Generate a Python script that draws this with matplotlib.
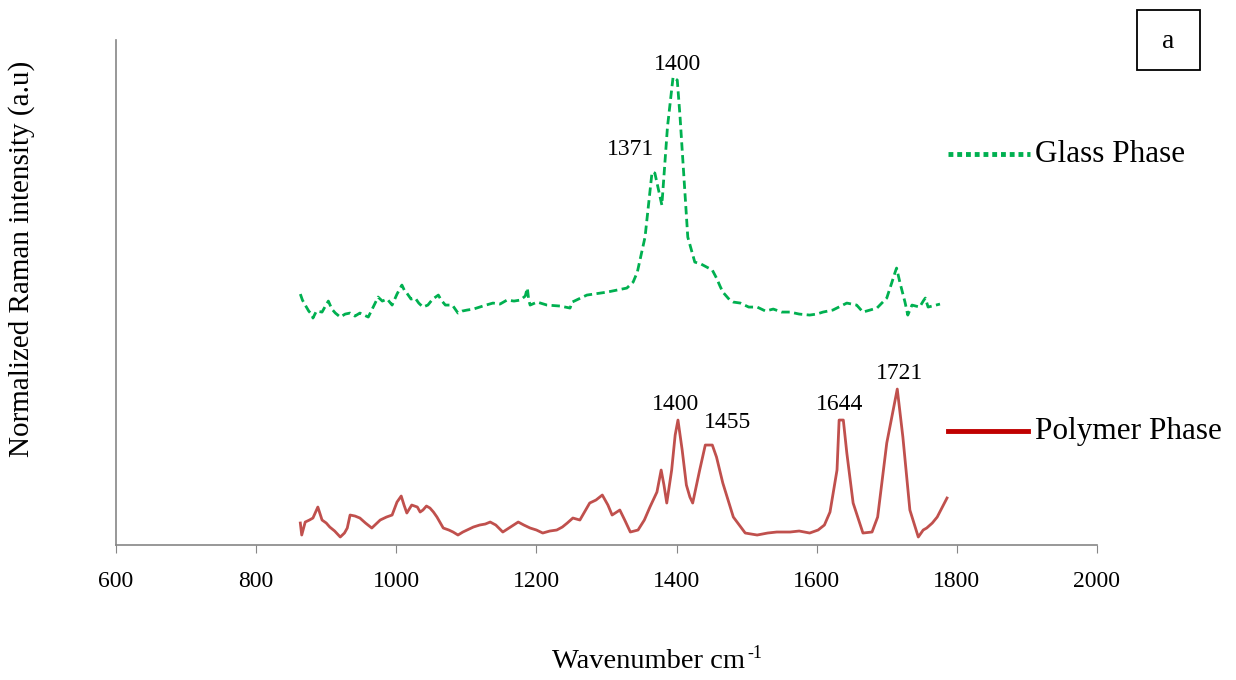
import matplotlib
matplotlib.use("Agg")
import matplotlib.pyplot as plt
from matplotlib.lines import Line2D
from matplotlib.patches import Rectangle

plt.rcParams['font.family'] = ['Liberation Serif', 'DejaVu Serif']

# Glass phase spectrum (wavenumber, normalized intensity)
glass_wn = [863, 866, 870, 875, 880, 881, 886, 894, 898, 903, 908, 913, 920, 927, 934,
            941, 948, 954, 960, 967, 974, 980, 987, 994, 1001, 1004, 1008, 1012, 1015,
            1021, 1027, 1032, 1038, 1045, 1052, 1060, 1064, 1070, 1080, 1088, 1094,
            1101, 1110, 1119, 1128, 1138, 1148, 1158, 1168, 1177, 1184, 1187, 1189,
            1191, 1201, 1215, 1234, 1248, 1251, 1272, 1301, 1329, 1338, 1344, 1355,
            1365, 1369, 1379, 1387, 1395, 1401, 1405, 1416, 1426, 1435, 1443, 1451,
            1457, 1462, 1466, 1476, 1481, 1491, 1503, 1515, 1527, 1538, 1550, 1562,
            1575, 1590, 1600, 1609, 1623, 1643, 1657, 1666, 1686, 1700, 1707, 1712,
            1714, 1719, 1726, 1730, 1736, 1747, 1752, 1755, 1759, 1776]
glass_int = [2.51, 2.45, 2.40, 2.34, 2.30, 2.27, 2.34, 2.33, 2.38, 2.44, 2.36, 2.32,
             2.28, 2.31, 2.32, 2.29, 2.32, 2.30, 2.28, 2.38, 2.48, 2.44, 2.46, 2.40,
             2.51, 2.55, 2.60, 2.54, 2.52, 2.46, 2.47, 2.42, 2.38, 2.40, 2.46, 2.50,
             2.45, 2.40, 2.40, 2.32, 2.34, 2.35, 2.36, 2.38, 2.40, 2.42, 2.41, 2.45,
             2.44, 2.45, 2.49, 2.57, 2.45, 2.40, 2.43, 2.40, 2.39, 2.37, 2.43, 2.50,
             2.53, 2.57, 2.63, 2.73, 3.08, 3.73, 3.72, 3.40, 4.18, 4.68, 4.65, 4.28,
             3.08, 2.83, 2.81, 2.78, 2.75, 2.67, 2.59, 2.53, 2.45, 2.43, 2.42, 2.38,
             2.38, 2.34, 2.36, 2.33, 2.33, 2.31, 2.30, 2.31, 2.33, 2.35, 2.42, 2.40,
             2.33, 2.37, 2.47, 2.62, 2.73, 2.77, 2.62, 2.43, 2.30, 2.40, 2.38, 2.44,
             2.47, 2.38, 2.41]

# Polymer phase spectrum
poly_wn = [863, 865, 870, 876, 881, 888, 894, 900, 905, 912, 920, 926, 930, 934, 941,
           948, 956, 965, 971, 977, 986, 994, 1001, 1007, 1011, 1015, 1022, 1030, 1034,
           1038, 1043, 1048, 1053, 1058, 1067, 1075, 1081, 1088, 1095, 1101, 1110,
           1119, 1127, 1134, 1142, 1152, 1163, 1174, 1182, 1191, 1200, 1209, 1219,
           1229, 1237, 1244, 1252, 1262, 1276, 1285, 1294, 1302, 1308, 1319, 1326,
           1334, 1345, 1354, 1362, 1372, 1378, 1382, 1386, 1393, 1398, 1402, 1408,
           1414, 1419, 1423, 1433, 1441, 1451, 1457, 1466, 1481, 1498, 1515, 1530,
           1543, 1562, 1575, 1590, 1602, 1611, 1619, 1629, 1632, 1638, 1643, 1652,
           1666, 1679, 1687, 1700, 1715, 1723, 1733, 1745, 1752, 1757, 1765, 1772,
           1786]
poly_int = [0.22, 0.10, 0.23, 0.25, 0.27, 0.38, 0.25, 0.22, 0.18, 0.14, 0.08, 0.12,
            0.17, 0.30, 0.29, 0.27, 0.22, 0.17, 0.21, 0.25, 0.28, 0.30, 0.43, 0.49,
            0.40, 0.32, 0.40, 0.38, 0.33, 0.35, 0.39, 0.37, 0.33, 0.28, 0.17, 0.15,
            0.13, 0.10, 0.13, 0.15, 0.18, 0.20, 0.21, 0.23, 0.20, 0.13, 0.18, 0.23,
            0.20, 0.17, 0.15, 0.12, 0.14, 0.15, 0.18, 0.22, 0.27, 0.25, 0.42, 0.45,
            0.50, 0.40, 0.30, 0.35, 0.25, 0.13, 0.15, 0.25, 0.38, 0.53, 0.75, 0.60,
            0.42, 0.75, 1.10, 1.25, 0.95, 0.60, 0.48, 0.42, 0.75, 1.00, 1.00, 0.88,
            0.62, 0.28, 0.12, 0.10, 0.12, 0.13, 0.13, 0.14, 0.12, 0.15, 0.20, 0.33,
            0.75, 1.25, 1.25, 0.92, 0.42, 0.12, 0.13, 0.28, 1.02, 1.56, 1.08, 0.35,
            0.08, 0.15, 0.17, 0.22, 0.28, 0.47]

# peak labels: (text, wavenumber, intensity)
glass_labels = [("1400", 1401, 4.70), ("1371", 1335, 3.85)]
poly_labels = [("1400", 1399, 1.30), ("1455", 1473, 1.12), ("1644", 1633, 1.30), ("1721", 1718, 1.61)]

fig = plt.figure(figsize=(12.36, 6.8), dpi=100)
ax = fig.add_axes([0.0939, 0.1985, 0.7936, 0.7425])

ax.plot(glass_wn, glass_int, color='#00B050', lw=2.0, linestyle=(0, (3, 1.6)))
ax.plot(poly_wn, poly_int, color='#C0504D', lw=2.0)

for txt, x, y in glass_labels + poly_labels:
    ax.text(x, y, txt, ha='center', va='bottom', fontsize=17)

ax.set_xlim(600, 2000)
ax.set_ylim(0, 5.05)
ax.set_xticks(range(600, 2001, 200))
ax.set_yticks([])
ax.tick_params(axis='x', labelsize=17, length=6, color='#868686', pad=13)
for s in ['top', 'right']:
    ax.spines[s].set_visible(False)
for s in ['left', 'bottom']:
    ax.spines[s].set_color('#868686')
    ax.spines[s].set_linewidth(1.2)

# legend entries drawn by hand
fig.add_artist(Line2D([948 / 1236, 1030 / 1236], [1 - 154 / 680] * 2,
                      color='#00B050', lw=3.5, linestyle=(0, (1, 0.8))))
fig.text(1035 / 1236, 1 - 154 / 680, "Glass Phase", fontsize=22.5, va='center')
fig.add_artist(Line2D([948 / 1236, 1028 / 1236], [1 - 431 / 680] * 2,
                      color='#C00000', lw=3.5))
fig.text(1035 / 1236, 1 - 431 / 680, "Polymer Phase", fontsize=22.5, va='center')

# panel tag
fig.add_artist(Rectangle((1137 / 1236, 1 - 70 / 680), 63 / 1236, 60 / 680,
                         fill=False, ec='black', lw=1.3, transform=fig.transFigure))
fig.text(1168 / 1236, 1 - 42 / 680, "a", fontsize=20, ha='center', va='center')

fig.text(22 / 1236, 1 - 259 / 680, "Normalized Raman intensity (a.u)",
         fontsize=21, rotation=90, ha='center', va='center')
fig.text(552 / 1236, 1 - 662 / 680, "Wavenumber cm", fontsize=20.5, ha='left', va='center')
fig.text(747 / 1236, 1 - 654 / 680, "-1", fontsize=13, ha='left', va='center')

fig.savefig("out.png", dpi=100)
